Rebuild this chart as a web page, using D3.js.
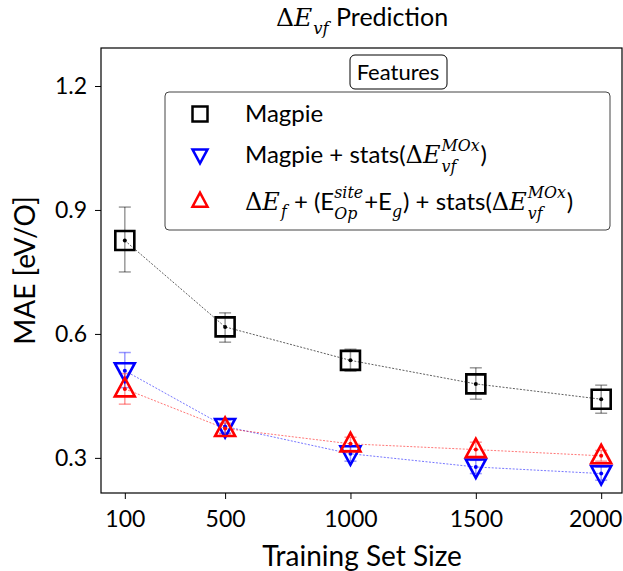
<!DOCTYPE html>
<html>
<head>
<meta charset="utf-8">
<script src="https://cdn.jsdelivr.net/npm/d3@7"></script>
<style>
  body { margin: 0; background: #fff; }
  svg { font-family: Lato, "DejaVu Sans", sans-serif; }
  text { white-space: pre; }
</style>
</head>
<body>
<svg id="chart" width="623" height="571"></svg>
<script>
// training set sizes
var sizes = [100, 500, 1000, 1500, 2000];
var xTicks = [100, 500, 1000, 1500, 2000];
var yTicks = [0.3, 0.6, 0.9, 1.2];

// MAE values and error bar ends (lo, hi)
var magpie = [0.826, 0.617, 0.536, 0.479, 0.442];
var magpieLo = [0.750, 0.580, 0.510, 0.442, 0.408];
var magpieHi = [0.907, 0.651, 0.563, 0.518, 0.476];

var magpieStats = [0.511, 0.376, 0.310, 0.278, 0.262];
var magpieStatsLo = [0.470, 0.360, 0.292, 0.262, 0.246];
var magpieStatsHi = [0.555, 0.392, 0.328, 0.294, 0.278];

var fullSet = [0.467, 0.371, 0.334, 0.320, 0.305];
var fullSetLo = [0.430, 0.358, 0.318, 0.303, 0.292];
var fullSetHi = [0.504, 0.384, 0.350, 0.338, 0.318];

var svg = d3.select("#chart"),
    pLeft = 101, pRight = 622, pTop = 48, pBottom = 493;

var x = d3.scaleLinear().domain([5, 2095]).range([pLeft, pRight + 3]);
var y = d3.scaleLinear().domain([0.215, 1.292]).range([pBottom, pTop]);

var series = [
  {vals: magpie, lo: magpieLo, hi: magpieHi, color: "#000", err: "rgba(0,0,0,0.4)", line: "rgba(0,0,0,0.7)", shape: "square"},
  {vals: magpieStats, lo: magpieStatsLo, hi: magpieStatsHi, color: "#0000ff", err: "rgba(0,0,255,0.4)", line: "rgba(0,0,255,0.6)", shape: "down"},
  {vals: fullSet, lo: fullSetLo, hi: fullSetHi, color: "#ff0000", err: "rgba(255,0,0,0.4)", line: "rgba(255,0,0,0.6)", shape: "up"}
];

function markerPath(shape, s) {
  if (shape == "square") return "M" + (-s) + "," + (-s) + "H" + s + "V" + s + "H" + (-s) + "Z";
  if (shape == "down") return "M" + (-s) + "," + (-s * 0.75) + "H" + s + "L0," + (s * 1.1) + "Z";
  return "M" + (-s) + "," + (s * 0.75) + "H" + s + "L0," + (-s * 1.1) + "Z";
}

// axes
var xAxis = svg.append("g").attr("transform", "translate(0," + pBottom + ")")
  .call(d3.axisBottom(x).tickValues(xTicks).tickFormat(d3.format("d")).tickSize(6).tickPadding(6));
var yAxis = svg.append("g").attr("transform", "translate(" + pLeft + ",0)")
  .call(d3.axisLeft(y).tickValues(yTicks).tickFormat(d3.format(".1f")).tickSize(6).tickPadding(8));
[xAxis, yAxis].forEach(function(a) {
  a.select(".domain").remove();
  a.selectAll("text").attr("font-size", 23).attr("font-family", "Lato, sans-serif").attr("fill", "#000");
  a.selectAll("line").attr("stroke", "#000").attr("stroke-width", 1);
});
xAxis.selectAll("text").attr("dy", "0.95em");
xAxis.selectAll(".tick:last-of-type text").attr("dx", "-6");

svg.append("rect").attr("x", pLeft).attr("y", pTop)
  .attr("width", pRight - pLeft).attr("height", pBottom - pTop)
  .attr("fill", "none").attr("stroke", "#000").attr("stroke-width", 1.2);

var plot = svg.append("g");

series.forEach(function(s) {
  var pts = sizes.map(function(d, i) { return {x: d, v: s.vals[i], lo: s.lo[i], hi: s.hi[i]}; });
  plot.append("path").datum(pts)
    .attr("d", d3.line().x(function(d) { return x(d.x); }).y(function(d) { return y(d.v); }))
    .attr("fill", "none").attr("stroke", s.line).attr("stroke-width", 0.9).attr("stroke-dasharray", "2,1.5");
  var eb = plot.append("g").selectAll("g").data(pts).enter().append("g");
  eb.append("line").attr("x1", function(d) { return x(d.x); }).attr("x2", function(d) { return x(d.x); })
    .attr("y1", function(d) { return y(d.lo); }).attr("y2", function(d) { return y(d.hi); })
    .attr("stroke", s.err).attr("stroke-width", 1.5);
  ["lo", "hi"].forEach(function(k) {
    eb.append("line").attr("x1", function(d) { return x(d.x) - 6; }).attr("x2", function(d) { return x(d.x) + 6; })
      .attr("y1", function(d) { return y(d[k]); }).attr("y2", function(d) { return y(d[k]); })
      .attr("stroke", s.err).attr("stroke-width", 1.5);
  });
  s.pts = pts;
});

series.forEach(function(s) {
  plot.append("g").selectAll("path").data(s.pts).enter().append("path")
    .attr("transform", function(d) { return "translate(" + x(d.x) + "," + y(d.v) + ")"; })
    .attr("d", markerPath(s.shape, s.shape == "square" ? 9.5 : 10))
    .attr("fill", "none").attr("stroke", s.color).attr("stroke-width", 2.6);
  plot.append("g").selectAll("circle").data(s.pts).enter().append("circle")
    .attr("cx", function(d) { return x(d.x); }).attr("cy", function(d) { return y(d.v); })
    .attr("r", 2).attr("fill", s.color);
});

// rich text: runs laid out one after another, measured as they go
var serif = "'DejaVu Serif', 'Liberation Serif', serif";
function rich(x0, y0, size, runs, anchor) {
  var g = svg.append("g"), cx = x0;
  runs.forEach(function(r) {
    if (r.sup || r.sub) {
      var w = 0;
      [[r.sup, r.sub ? -0.5 : -0.42], [r.sub, r.sup ? 0.38 : 0.3]].forEach(function(p) {
        if (!p[0]) return;
        var t = g.append("text").attr("x", cx).attr("y", y0 + p[1] * size)
          .attr("font-size", size * 0.66).attr("font-family", serif).attr("font-style", "italic").text(p[0]);
        w = Math.max(w, t.node().getComputedTextLength());
      });
      cx += w + 1;
    } else {
      var t = g.append("text").attr("x", cx).attr("y", y0).attr("font-size", size).text(r.t);
      if (r.m) t.attr("font-family", serif).attr("font-style", r.up ? "normal" : "italic");
      cx += t.node().getComputedTextLength() + (r.m && !r.up ? 1 : 0);
    }
  });
  if (anchor == "middle") g.attr("transform", "translate(" + (-(cx - x0) / 2) + ",0)");
  return g;
}

// title
rich(362, 26, 25, [{t: "Δ", m: 1, up: 1}, {t: "E", m: 1}, {sub: "vf"}, {t: " Prediction"}], "middle");

// axis labels
svg.append("text").attr("x", 362).attr("y", 566).attr("text-anchor", "middle").attr("font-size", 28).text("Training Set Size");
svg.append("text").attr("transform", "translate(35," + ((pTop + pBottom) / 2) + ") rotate(-90)")
  .attr("text-anchor", "middle").attr("font-size", 28).text("MAE [eV/O]");

// legend
svg.append("rect").attr("x", 350).attr("y", 55).attr("width", 97).attr("height", 34).attr("rx", 5)
  .attr("fill", "#fff").attr("stroke", "#000").attr("stroke-width", 1);
svg.append("text").attr("x", 398).attr("y", 80).attr("text-anchor", "middle").attr("font-size", 22).text("Features");
svg.append("rect").attr("x", 165).attr("y", 92).attr("width", 445).attr("height", 138).attr("rx", 4)
  .attr("fill", "#fff").attr("stroke", "#444").attr("stroke-width", 1);

var legRows = [114, 155, 201];
series.forEach(function(s, i) {
  svg.append("path").attr("transform", "translate(200," + legRows[i] + ")")
    .attr("d", markerPath(s.shape, 7.5))
    .attr("fill", "none").attr("stroke", s.color).attr("stroke-width", 2.5);
});

rich(245, 122, 24, [{t: "Magpie"}]);
rich(245, 163, 24, [{t: "Magpie + stats("}, {t: "Δ", m: 1, up: 1}, {t: "E", m: 1}, {sup: "MOx", sub: "vf"}, {t: ")"}]);
rich(245, 210, 24, [{t: "Δ", m: 1, up: 1}, {t: "E", m: 1}, {sub: "f"}, {t: " + (E"}, {sup: "site", sub: "Op"},
  {t: "+E"}, {sub: "g"}, {t: ") + stats("}, {t: "Δ", m: 1, up: 1}, {t: "E", m: 1}, {sup: "MOx", sub: "vf"}, {t: ")"}]);
</script>
</body>
</html>
